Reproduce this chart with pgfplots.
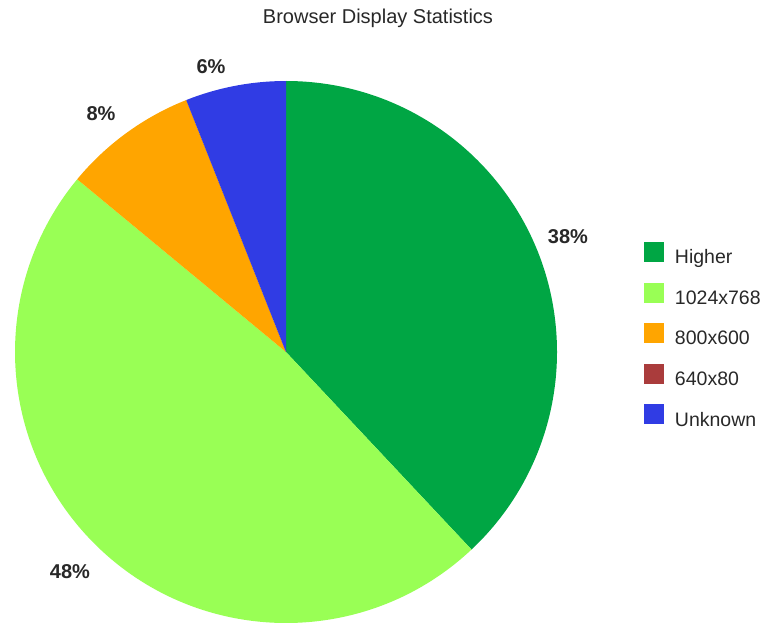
\documentclass[border=0pt]{standalone}
\usepackage{pgfplots}
\usepackage{pgfplotstable}
\usepackage{fontspec}
\setmainfont{Liberation Sans}
\pgfplotsset{compat=1.18}

\definecolor{cHigher}{RGB}{0,166,68}
\definecolor{cXGA}{RGB}{153,255,85}
\definecolor{cSVGA}{RGB}{255,165,0}
\definecolor{cVGA}{RGB}{170,60,60}
\definecolor{cUnknown}{RGB}{48,60,228}
\definecolor{txt}{RGB}{40,40,40}

% share in percent, colour, label centre (picture coordinates)
\pgfplotstableread{
name     value col      lx  ly
Higher   38    cHigher  568 388
1024x768 48    cXGA     70  53
800x600  8     cSVGA    101 511
640x80   0     cVGA     0   0
Unknown  6     cUnknown 211 558
}\pietable

\begin{document}
\begin{tikzpicture}
% slice angles, clockwise from the top
\pgfmathsetmacro{\cur}{90}
\pgfplotsforeachungrouped \i in {0,...,4}{%
  \pgfplotstablegetelem{\i}{value}\of\pietable
  \expandafter\xdef\csname pv\i\endcsname{\pgfplotsretval}%
  \pgfmathsetmacro{\nxt}{\cur-3.6*\pgfplotsretval}%
  \expandafter\xdef\csname sa\i\endcsname{\cur}%
  \expandafter\xdef\csname ea\i\endcsname{\nxt}%
  \global\let\cur\nxt
  \pgfplotstablegetelem{\i}{col}\of\pietable
  \expandafter\xdef\csname pc\i\endcsname{\pgfplotsretval}%
  \pgfplotstablegetelem{\i}{lx}\of\pietable
  \expandafter\xdef\csname lx\i\endcsname{\pgfplotsretval}%
  \pgfplotstablegetelem{\i}{ly}\of\pietable
  \expandafter\xdef\csname ly\i\endcsname{\pgfplotsretval}%
}
\begin{axis}[
    scale only axis,
    width=768pt, height=625pt,
    xmin=0, xmax=768, ymin=0, ymax=625,
    hide axis, clip=false,
    legend image code/.code={\fill[#1, draw=none] (0pt,-3pt) rectangle (20pt,17pt);},
    legend cell align=left,
    legend style={draw=none, fill=none, inner sep=0pt, outer sep=0pt,
        at={(0.8385,0.613)}, anchor=north west,
        font=\fontsize{19.5}{22}\selectfont, text=txt,
        nodes={inner sep=0pt, text depth=4.5pt},
        column sep=11pt, row sep=14.5pt},
]
\pgfplotsinvokeforeach{0,...,4}{
  \fill[overlay, fill=\csname pc#1\endcsname]
    (axis cs:286,273) -- ([shift={(\csname sa#1\endcsname:271pt)}]axis cs:286,273)
    arc[start angle=\csname sa#1\endcsname, end angle=\csname ea#1\endcsname, radius=271pt]
    -- cycle;
  \ifnum\csname pv#1\endcsname>0
    \node[font=\bfseries\fontsize{20}{24}\selectfont, text=txt, anchor=center]
      at (axis cs:\csname lx#1\endcsname,\csname ly#1\endcsname) {\csname pv#1\endcsname\%};
  \fi
}
\addlegendimage{fill=cHigher}\addlegendentry{Higher}
\addlegendimage{fill=cXGA}\addlegendentry{1024x768}
\addlegendimage{fill=cSVGA}\addlegendentry{800x600}
\addlegendimage{fill=cVGA}\addlegendentry{640x80}
\addlegendimage{fill=cUnknown}\addlegendentry{Unknown}
\node[font=\fontsize{20}{24}\selectfont, text=txt] at (axis cs:378,607) {Browser Display Statistics};
\end{axis}
\pgfresetboundingbox
\path (current axis.south west) rectangle (current axis.north east);
\end{tikzpicture}
\end{document}
